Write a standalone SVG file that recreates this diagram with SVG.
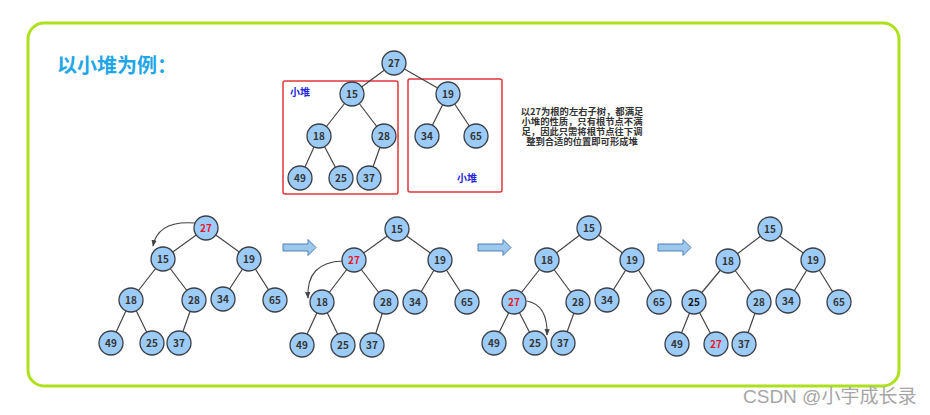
<svg xmlns="http://www.w3.org/2000/svg" width="930" height="415" viewBox="0 0 930 415">
<style>
.frame{fill:none;stroke:#aee01c;stroke-width:3}
.box{fill:none;stroke:#e2363b;stroke-width:1.5}
.edge{stroke:#444;stroke-width:1.2;fill:none}
.curve{stroke:#444;stroke-width:1.1;fill:none}
.nd circle{fill:#9dcbf8;stroke:#3a3f46;stroke-width:1.3}
.nd text{font-family:"Noto Sans CJK SC","Noto Sans",sans-serif;font-size:10px;font-weight:bold;fill:#333;text-anchor:middle}
.nd text.red{fill:#e8182a}
.barrow{fill:#9dc8ee;stroke:#4f7fb4;stroke-width:1}
.title{font-family:"Noto Sans CJK SC",sans-serif;font-size:20px;font-weight:bold;fill:#1fa6e6}
.lbl{font-family:"Noto Sans CJK SC",sans-serif;font-size:10px;font-weight:bold;fill:#2323dd;text-anchor:middle}
.note{font-family:"Noto Sans CJK SC",sans-serif;font-size:9.3px;font-weight:bold;fill:#333;text-anchor:middle}
.wm{font-family:"Liberation Sans","Noto Sans CJK SC",sans-serif;font-size:19px;fill:#a6a6a6}
</style>
<defs>
<marker id="ah" viewBox="0 0 10 10" refX="9" refY="5" markerWidth="6" markerHeight="6" orient="auto"><path d="M0,1 L10,5 L0,9 Z" fill="#444"/></marker>
<g id="blk"><path d="M0,-3.5 H25 V-8 L33,0 L25,8 V3.5 H0 Z"/></g>
</defs>
<rect class="frame" x="28" y="23" width="871" height="363" rx="16"/>
<text class="title" x="57" y="73">以小堆为例：</text>
<g id="boxes">
<rect class="box" x="283" y="81" width="115" height="113" rx="2"/>
<rect class="box" x="408" y="79" width="94" height="113" rx="2"/>
<text class="lbl" x="300" y="96">小堆</text>
<text class="lbl" x="467" y="182">小堆</text>
</g>
<g id="note">
<text class="note" x="582" y="114.5">以27为根的左右子树，都满足</text>
<text class="note" x="582" y="124.8">小堆的性质，只有根节点不满</text>
<text class="note" x="582" y="135.1">足，因此只需将根节点往下调</text>
<text class="note" x="582" y="145.4">整到合适的位置即可形成堆</text>
</g>
<g id="connectors">
<path class="edge" d="M394,63 L352,94 M394,63 L448,94 M352,94 L319,136 M352,94 L384,136 M319,136 L300,178 M319,136 L341,178 M384,136 L369,178 M448,94 L427,136 M448,94 L476,136"/>
<path class="edge" d="M206,228 L163,259 M206,228 L249,259 M163,259 L131,300 M163,259 L194,300 M131,300 L111,343 M131,300 L152,343 M194,300 L179,343 M249,259 L223,299 M249,259 L275,300"/>
<path class="edge" d="M397,229 L354,260 M397,229 L440,260 M354,260 L322,302 M354,260 L386,302 M322,302 L302,345 M322,302 L343,345 M386,302 L372,345 M440,260 L415,302 M440,260 L467,302"/>
<path class="edge" d="M589,228 L547,260 M589,228 L632,260 M547,260 L514,302 M547,260 L578,302 M514,302 L494,343 M514,302 L535,343 M578,302 L563,343 M632,260 L607,300 M632,260 L659,302"/>
<path class="edge" d="M770,229 L728,261 M770,229 L813,260 M728,261 L694,302 M728,261 L759,302 M694,302 L677,344 M694,302 L716,344 M759,302 L744,344 M813,260 L788,301 M813,260 L839,302"/>
<path class="curve" marker-end="url(#ah)" d="M195,223 Q158,220 153,246"/>
<path class="curve" marker-end="url(#ah)" d="M343,261 Q306,262 308,298"/>
<path class="curve" marker-end="url(#ah)" d="M527,301 Q548,305 547,335"/>
<use href="#blk" class="barrow" x="283" y="247.5"/>
<use href="#blk" class="barrow" x="478" y="247.5"/>
<use href="#blk" class="barrow" x="658" y="247.5"/>
</g>
<g id="top-27" class="nd"><circle cx="394" cy="63" r="12"/><text x="394" y="66.5">27</text></g>
<g id="top-15" class="nd"><circle cx="352" cy="94" r="12"/><text x="352" y="97.5">15</text></g>
<g id="top-19" class="nd"><circle cx="448" cy="94" r="12"/><text x="448" y="97.5">19</text></g>
<g id="top-18" class="nd"><circle cx="319" cy="136" r="12"/><text x="319" y="139.5">18</text></g>
<g id="top-28" class="nd"><circle cx="384" cy="136" r="12"/><text x="384" y="139.5">28</text></g>
<g id="top-34" class="nd"><circle cx="427" cy="136" r="12"/><text x="427" y="139.5">34</text></g>
<g id="top-65" class="nd"><circle cx="476" cy="136" r="12"/><text x="476" y="139.5">65</text></g>
<g id="top-49" class="nd"><circle cx="300" cy="178" r="12"/><text x="300" y="181.5">49</text></g>
<g id="top-25" class="nd"><circle cx="341" cy="178" r="12"/><text x="341" y="181.5">25</text></g>
<g id="top-37" class="nd"><circle cx="369" cy="178" r="12"/><text x="369" y="181.5">37</text></g>

<g id="t1-27" class="nd"><circle cx="206" cy="228" r="12"/><text class="red" x="206" y="231.5">27</text></g>
<g id="t1-15" class="nd"><circle cx="163" cy="259" r="12"/><text x="163" y="262.5">15</text></g>
<g id="t1-19" class="nd"><circle cx="249" cy="259" r="12"/><text x="249" y="262.5">19</text></g>
<g id="t1-18" class="nd"><circle cx="131" cy="300" r="12"/><text x="131" y="303.5">18</text></g>
<g id="t1-28" class="nd"><circle cx="194" cy="300" r="12"/><text x="194" y="303.5">28</text></g>
<g id="t1-34" class="nd"><circle cx="223" cy="299" r="12"/><text x="223" y="302.5">34</text></g>
<g id="t1-65" class="nd"><circle cx="275" cy="300" r="12"/><text x="275" y="303.5">65</text></g>
<g id="t1-49" class="nd"><circle cx="111" cy="343" r="12"/><text x="111" y="346.5">49</text></g>
<g id="t1-25" class="nd"><circle cx="152" cy="343" r="12"/><text x="152" y="346.5">25</text></g>
<g id="t1-37" class="nd"><circle cx="179" cy="343" r="12"/><text x="179" y="346.5">37</text></g>

<g id="t2-15" class="nd"><circle cx="397" cy="229" r="12"/><text x="397" y="232.5">15</text></g>
<g id="t2-27" class="nd"><circle cx="354" cy="260" r="12"/><text class="red" x="354" y="263.5">27</text></g>
<g id="t2-19" class="nd"><circle cx="440" cy="260" r="12"/><text x="440" y="263.5">19</text></g>
<g id="t2-18" class="nd"><circle cx="322" cy="302" r="12"/><text x="322" y="305.5">18</text></g>
<g id="t2-28" class="nd"><circle cx="386" cy="302" r="12"/><text x="386" y="305.5">28</text></g>
<g id="t2-34" class="nd"><circle cx="415" cy="302" r="12"/><text x="415" y="305.5">34</text></g>
<g id="t2-65" class="nd"><circle cx="467" cy="302" r="12"/><text x="467" y="305.5">65</text></g>
<g id="t2-49" class="nd"><circle cx="302" cy="345" r="12"/><text x="302" y="348.5">49</text></g>
<g id="t2-25" class="nd"><circle cx="343" cy="345" r="12"/><text x="343" y="348.5">25</text></g>
<g id="t2-37" class="nd"><circle cx="372" cy="345" r="12"/><text x="372" y="348.5">37</text></g>

<g id="t3-15" class="nd"><circle cx="589" cy="228" r="12"/><text x="589" y="231.5">15</text></g>
<g id="t3-18" class="nd"><circle cx="547" cy="260" r="12"/><text x="547" y="263.5">18</text></g>
<g id="t3-19" class="nd"><circle cx="632" cy="260" r="12"/><text x="632" y="263.5">19</text></g>
<g id="t3-27" class="nd"><circle cx="514" cy="302" r="12"/><text class="red" x="514" y="305.5">27</text></g>
<g id="t3-28" class="nd"><circle cx="578" cy="302" r="12"/><text x="578" y="305.5">28</text></g>
<g id="t3-34" class="nd"><circle cx="607" cy="300" r="12"/><text x="607" y="303.5">34</text></g>
<g id="t3-65" class="nd"><circle cx="659" cy="302" r="12"/><text x="659" y="305.5">65</text></g>
<g id="t3-49" class="nd"><circle cx="494" cy="343" r="12"/><text x="494" y="346.5">49</text></g>
<g id="t3-25" class="nd"><circle cx="535" cy="343" r="12"/><text x="535" y="346.5">25</text></g>
<g id="t3-37" class="nd"><circle cx="563" cy="343" r="12"/><text x="563" y="346.5">37</text></g>

<g id="t4-15" class="nd"><circle cx="770" cy="229" r="12"/><text x="770" y="232.5">15</text></g>
<g id="t4-18" class="nd"><circle cx="728" cy="261" r="12"/><text x="728" y="264.5">18</text></g>
<g id="t4-19" class="nd"><circle cx="813" cy="260" r="12"/><text x="813" y="263.5">19</text></g>
<g id="t4-25" class="nd"><circle cx="694" cy="302" r="12"/><text x="694" y="305.5" style="fill:#111">25</text></g>
<g id="t4-28" class="nd"><circle cx="759" cy="302" r="12"/><text x="759" y="305.5">28</text></g>
<g id="t4-34" class="nd"><circle cx="788" cy="301" r="12"/><text x="788" y="304.5">34</text></g>
<g id="t4-65" class="nd"><circle cx="839" cy="302" r="12"/><text x="839" y="305.5">65</text></g>
<g id="t4-49" class="nd"><circle cx="677" cy="344" r="12"/><text x="677" y="347.5">49</text></g>
<g id="t4-27" class="nd"><circle cx="716" cy="344" r="12"/><text class="red" x="716" y="347.5">27</text></g>
<g id="t4-37" class="nd"><circle cx="744" cy="344" r="12"/><text x="744" y="347.5">37</text></g>

<text class="wm" x="743" y="403">CSDN @小宇成长录</text>
</svg>
